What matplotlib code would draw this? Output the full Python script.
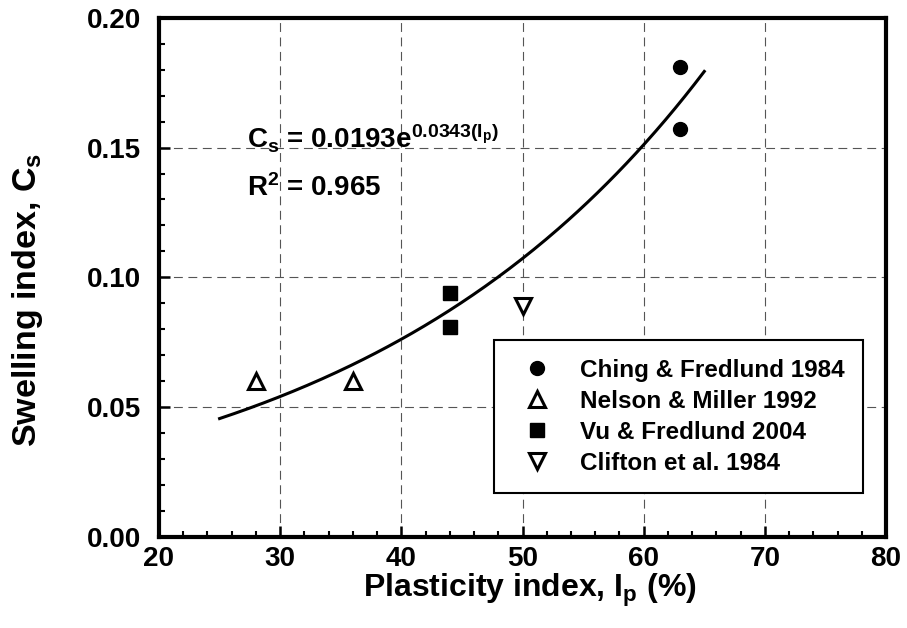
import numpy as np
import matplotlib
matplotlib.use('Agg')
import matplotlib.pyplot as plt
from matplotlib.ticker import MultipleLocator

plt.rcParams['font.family'] = ['Liberation Sans', 'DejaVu Sans']
plt.rcParams['font.weight'] = 'bold'
plt.rcParams['mathtext.fontset'] = 'custom'
plt.rcParams['mathtext.rm'] = 'Liberation Sans:bold'
plt.rcParams['mathtext.it'] = 'Liberation Sans:bold'
plt.rcParams['mathtext.bf'] = 'Liberation Sans:bold'
plt.rcParams['mathtext.default'] = 'rm'

# data
ching_ip = [63, 63]
ching_cs = [0.181, 0.157]
nelson_ip = [28, 36]
nelson_cs = [0.060, 0.060]
vu_ip = [44, 44]
vu_cs = [0.094, 0.081]
clifton_ip = [50]
clifton_cs = [0.089]

# exponential fit printed on the chart
fit_a = 0.0193
fit_b = 0.0343
fit_range = (25, 65)

fig = plt.figure(figsize=(9.07, 6.28), dpi=100)
ax = fig.add_axes([0.1753, 0.1457, 0.8016, 0.8256])

ax.plot(ching_ip, ching_cs, 'o', color='k', ms=10, ls='none', label='Ching & Fredlund 1984', zorder=5)
ax.plot(nelson_ip, nelson_cs, '^', mfc='white', mec='k', mew=2.2, ms=11, ls='none', label='Nelson & Miller 1992', zorder=5)
ax.plot(vu_ip, vu_cs, 's', color='k', ms=9.5, ls='none', label='Vu & Fredlund 2004', zorder=5)
ax.plot(clifton_ip, clifton_cs, 'v', mfc='white', mec='k', mew=2.2, ms=11, ls='none', label='Clifton et al. 1984', zorder=5)

x_fit = np.linspace(fit_range[0], fit_range[1], 200)
ax.plot(x_fit, fit_a * np.exp(fit_b * x_fit), color='k', lw=2.2, zorder=4)

ax.text(27.3, 0.1499, r'C$_\mathregular{s}$ = 0.0193e$^{\mathregular{0.0343(I_p)}}$', fontsize=20, fontweight='bold')
ax.text(27.3, 0.1314, r'R$^\mathregular{2}$ = 0.965', fontsize=20, fontweight='bold')

ax.set_xlim(20, 80)
ax.set_ylim(0, 0.20)
ax.xaxis.set_major_locator(MultipleLocator(10))
ax.xaxis.set_minor_locator(MultipleLocator(2))
ax.yaxis.set_major_locator(MultipleLocator(0.05))
ax.yaxis.set_minor_locator(MultipleLocator(0.01))
ax.yaxis.set_major_formatter(matplotlib.ticker.FormatStrFormatter('%.2f'))

ax.tick_params(which='major', direction='in', length=8, width=1.8, labelsize=20)
ax.tick_params(axis='y', which='major', pad=13)
ax.tick_params(axis='x', which='major', pad=7)
ax.tick_params(which='minor', direction='in', length=4, width=1.5)
for s in ax.spines.values():
    s.set_linewidth(3)

ax.grid(True, which='major', ls=(0, (8, 5)), color='#555555', lw=0.8)

ax.set_xlabel(r'Plasticity index, I$_\mathregular{p}$ (%)', fontsize=23, fontweight='bold')
ax.set_ylabel(r'Swelling index, C$_\mathregular{s}$', fontsize=24.5, fontweight='bold')
ax.xaxis.set_label_coords(0.51, -0.068)
ax.yaxis.set_label_coords(-0.157, 0.456)

leg = ax.legend(loc='lower right', bbox_to_anchor=(0.968, 0.084), borderaxespad=0,
                fontsize=17.5, frameon=True, fancybox=False, edgecolor='k', framealpha=1,
                handletextpad=0.75, borderpad=0.75, labelspacing=0.33, handlelength=2.05)
leg.get_frame().set_linewidth(1.5)
for t in leg.get_texts():
    t.set_fontweight('bold')

plt.savefig('out.png', dpi=100)
